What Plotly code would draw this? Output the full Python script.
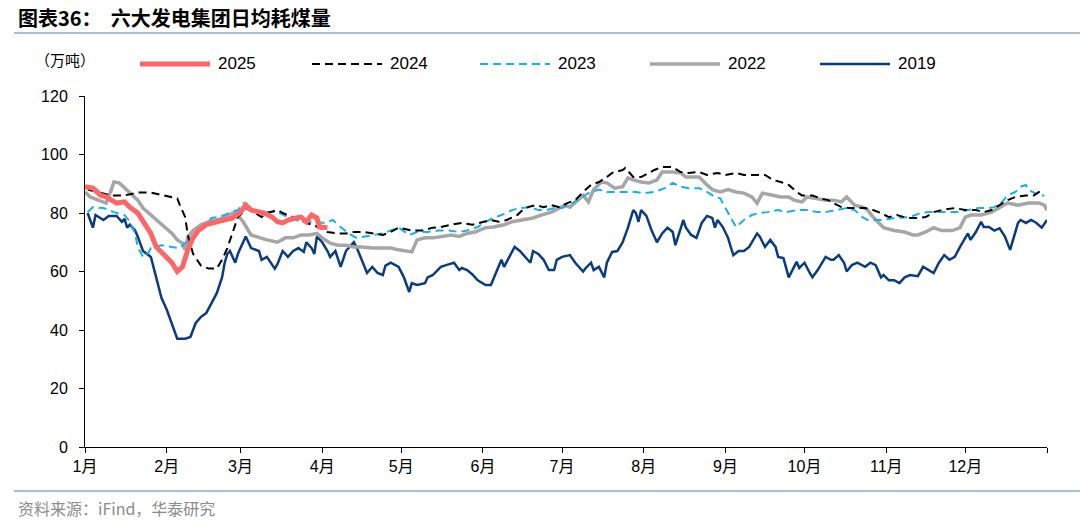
import plotly.graph_objects as go

# ---------------- data ----------------
months = ["1月", "2月", "3月", "4月", "5月", "6月", "7月", "8月", "9月", "10月", "11月", "12月"]
month_start_day = [0, 31, 59, 90, 120, 151, 181, 212, 243, 273, 304, 334]
year_end_day = 365

days_2025 = [0, 3, 6, 8, 10, 12, 15, 17, 20, 22, 25, 27, 30, 33, 35, 37, 39, 41, 43, 46, 50, 53, 56, 59, 61,
             63, 66, 68, 71, 73, 75, 77, 80, 82, 84, 86, 88, 89, 92]
vals_2025 = [89, 88.5, 86, 85.5, 84.4, 83.4, 83.8, 82, 80, 77, 73, 68.4, 65.6, 63, 60, 61.6, 67.4, 71.5, 74, 76, 77, 77.6, 78.3, 80.3, 82.7,
             81, 80.3, 80, 78.6, 77, 76.6, 77.6, 78.3, 78.6, 77, 79.3, 78.3, 75.2, 75]

days_2024 = [1, 5, 10, 15, 20, 25, 30, 35, 36, 38, 39, 41, 44, 47, 50, 52, 54, 56, 58, 60, 61, 64, 67, 69, 73, 75, 79, 81, 83, 86,
             89, 92, 96, 99, 102, 106, 109, 113, 116, 119, 124, 128, 132, 135, 139, 143, 147, 151, 154, 157, 160, 164, 166, 168,
             171, 174, 177, 180, 183, 186, 189, 192, 195, 198, 200, 204, 205, 208, 211, 214, 216, 219, 223, 226, 229, 233, 236,
             240, 243, 247, 250, 254, 258, 261, 264, 267, 270, 272, 276, 279, 282, 284, 287, 290, 293, 296, 299, 302, 305, 308,
             312, 316, 319, 322, 325, 330, 334, 338, 341, 344, 347, 350, 353, 357, 360, 362, 364]
vals_2024 = [88, 87, 86, 86, 87, 87, 86, 85, 82.7, 78.6, 72.5, 66, 62, 61, 61, 64, 68, 73.5, 78.6, 80.3, 81.7, 80.3, 78.6, 80, 81, 80, 78.6, 78.3, 77, 76,
             75, 73.5, 73, 73, 73.5, 73.5, 73, 72.5, 73.5, 75, 74, 74, 75, 75.2, 76, 76.6, 76, 77, 77.6, 77, 77.6, 79.3, 81, 82,
             82.7, 82, 82.7, 82, 83.4, 84.4, 87.2, 89.6, 90.6, 92.3, 93.7, 94.7, 95.4, 92.3, 92.3, 93.7, 94.7, 95.7, 95.7, 94, 93.7, 94, 93,
             93.7, 93, 93.7, 93, 93, 93, 91.3, 90.6, 89.6, 87.2, 86, 86, 85, 84.4, 83.4, 82, 81.7, 81.7, 81.7, 81, 80, 78.6, 79.3,
             78.3, 78.3, 78.6, 80.3, 81, 81.7, 81, 81, 80.3, 81, 82.7, 84.4, 85.5, 86, 86, 87.2, 88]

days_2023 = [1, 3, 7, 11, 15, 17, 19, 20, 22, 24, 25, 27, 29, 33, 36, 38, 40, 42, 45, 48, 50, 53, 55, 58, 60, 64, 68, 73, 77, 80,
             83, 87, 91, 94, 97, 100, 103, 106, 109, 113, 116, 119, 123, 126, 130, 134, 138, 142, 145, 149, 152, 155, 158, 162,
             165, 169, 172, 175, 178, 181, 185, 188, 191, 195, 198, 202, 206, 209, 212, 216, 220, 223, 226, 229, 233, 236, 239,
             241, 243, 245, 247, 248, 250, 253, 256, 259, 263, 266, 270, 274, 278, 281, 285, 289, 292, 295, 297, 300, 303, 307,
             313, 317, 320, 324, 327, 331, 335, 339, 343, 345, 348, 350, 353, 355, 357, 358, 362, 364]
vals_2023 = [80.3, 82, 81.7, 80.3, 79.3, 77, 73, 68.4, 65, 66.3, 68, 68.4, 69, 68.4, 68, 69.7, 71.5, 73, 75.2, 78.3, 78.6, 79.3, 80.3, 81, 83.4, 81, 80.3, 80.3, 78.6, 77.6,
             77, 77, 76.6, 77.6, 75.2, 73, 71.5, 72, 72.5, 73, 74, 75, 72.5, 73.5, 73.5, 74, 74, 73.5, 74, 75.2, 77, 78.3, 79.3, 81,
             81.7, 82, 81, 81, 81.7, 81.7, 83.4, 85, 86.8, 88, 87.2, 87.2, 87.2, 87.2, 86.8, 87.2, 88.5, 90.3, 89, 88.5, 88.5, 87.2, 85.5,
             85, 81.7, 78.6, 75.2, 76, 77.6, 79.3, 80, 80.3, 81, 80.3, 81, 81, 80.3, 80.3, 81, 81.7, 81, 78.6, 77.6, 77.6, 77.6, 78.3,
             78.6, 80, 80.3, 80.3, 80.3, 80.3, 81, 81.7, 81.7, 82, 83.8, 86, 87.2, 89, 89.6, 88, 86, 86]

days_2022 = [0, 2, 5, 8, 10, 11, 13, 15, 17, 20, 22, 25, 27, 30, 33, 35, 37, 38, 39, 41, 44, 47, 50, 53, 57, 58, 60, 63, 66, 69,
             73, 76, 79, 82, 85, 88, 90, 93, 96, 99, 102, 105, 109, 113, 116, 119, 123, 124, 126, 129, 132, 135, 139, 142, 145,
             148, 152, 155, 159, 162, 166, 170, 173, 177, 180, 182, 184, 187, 189, 191, 193, 196, 198, 201, 204, 206, 208, 211,
             214, 217, 219, 223, 226, 228, 231, 233, 236, 238, 241, 244, 247, 250, 253, 255, 257, 261, 264, 267, 269, 272, 274,
             277, 281, 284, 287, 289, 292, 295, 297, 299, 301, 303, 307, 311, 314, 316, 319, 322, 325, 329, 332, 334, 336, 340,
             344, 347, 350, 354, 358, 362, 364, 365]
vals_2022 = [87.2, 85.5, 84.4, 83.4, 88, 90.6, 90.3, 88.5, 86.8, 84.4, 81.7, 79.3, 77.6, 75.2, 73, 70.8, 69.7, 67.4, 71.8, 74, 76, 77, 77.6, 78.6, 80.3, 79.3, 77, 72.5, 71.5, 70.8,
             70, 71.5, 71.5, 72.5, 72.5, 73, 71.5, 69.7, 69, 69, 68.4, 68.4, 68, 68, 68, 67.4, 66.7, 66.7, 70.8, 71.5, 71.5, 72, 72.5, 72, 73,
             73.5, 75, 75.2, 76, 77, 77.6, 78.3, 79.3, 80.3, 81.7, 82.7, 82, 84.4, 86, 83.8, 88, 90.6, 90.3, 88.5, 89, 92, 91.3, 90.6,
             90.3, 91.3, 94, 94, 93.7, 92.3, 92.3, 92.3, 89.6, 88, 87.2, 88, 87.2, 86.8, 85.5, 83.4, 86.8, 86, 85.5, 85.5, 84.4, 83.8, 85.5,
             85, 84.4, 84.4, 83.8, 85.5, 82.7, 82, 81, 78.6, 76.6, 75, 74, 73.5, 72.5, 72.5, 73.5, 75, 74, 74, 75, 78.6, 79.3, 79.3,
             80.3, 82, 83.4, 82.7, 83.4, 83.4, 82.7, 81]

days_2019 = [1, 3, 4, 7, 9, 12, 14, 15, 16, 17, 19, 20, 22, 25, 27, 29, 31, 34, 35, 38, 40, 42, 44, 46, 48, 50, 52, 53, 54, 55,
             57, 58, 59, 61, 63, 66, 67, 69, 72, 73, 75, 77, 79, 81, 83, 84, 86, 87, 88, 90, 92, 93, 95, 96, 97, 99, 101, 102,
             103, 105, 107, 109, 111, 113, 114, 116, 119, 121, 123, 124, 126, 129, 130, 132, 134, 135, 137, 140, 142, 143, 145,
             147, 149, 152, 154, 156, 158, 159, 161, 163, 165, 167, 169, 170, 172, 174, 176, 178, 179, 181, 184, 186, 189, 190,
             192, 193, 195, 197, 198, 200, 202, 204, 206, 208, 209, 210, 211, 213, 215, 217, 219, 221, 223, 224, 226, 227, 228,
             230, 232, 234, 236, 238, 239, 240, 242, 244, 245, 246, 248, 250, 252, 255, 256, 258, 260, 262, 263, 265, 267, 269,
             270, 271, 273, 275, 276, 278, 281, 283, 284, 286, 288, 289, 291, 293, 296, 298, 300, 302, 303, 305, 307, 309, 311,
             313, 316, 318, 320, 322, 324, 326, 328, 330, 332, 334, 335, 336, 338, 340, 341, 343, 345, 347, 349, 351, 352, 354,
             355, 357, 359, 361, 363, 365]
vals_2019 = [80, 75, 79.3, 77.6, 79, 79, 77, 78, 75, 76, 74, 72, 67, 65, 58, 51, 47, 40, 37, 37, 37.6, 42.4, 44.5, 45.8, 49, 52.6, 58, 63, 66, 67,
             63, 66, 68, 72, 68, 67, 64, 65, 61, 62.5, 67, 65, 67, 68, 66.7, 70, 68, 66, 72, 70, 67, 65, 67, 64, 61.6, 67, 69, 70,
             68.4, 64, 59.5, 61.6, 59.5, 58.8, 62, 63, 61.6, 58, 53, 56, 55.4, 56, 58, 58.8, 60.5, 61.6, 62.2, 63, 60.5, 61.2, 60.5,
             59, 57, 55.4, 55.4, 59.5, 64, 61.6, 65, 68.4, 67, 65, 63, 67, 66, 64, 60.5, 60.5, 64, 65, 65.6, 63, 60, 61.2,
             63, 60.5, 61.6, 58, 63, 66.7, 67, 70, 75, 81, 80, 77, 81, 79, 74, 70, 73, 75, 73.5, 69, 75, 77.6, 75,
             72.5, 71.5, 76.6, 79, 78.3, 75, 77.6, 75.2, 71.5, 68.4, 65.6, 67, 67, 68.4, 73, 72, 68.4, 70.8, 68.4, 65, 64.6, 58, 61.6,
             63.3, 61.2, 63, 59.5, 58, 60.5, 65, 64, 64, 65.6, 63, 60, 62.2, 63, 61.6, 63, 62.2, 58, 58.8, 57, 57, 56, 58,
             58.8, 58.4, 61.6, 60.5, 59.5, 63, 65.6, 64, 65, 68.4, 71.5, 73, 70.8, 73.5, 77, 75.2, 75.2, 74, 74.8, 72, 67.4, 70.8, 76.6,
             77.6, 76.6, 77.6, 76.6, 75, 77.6]

y_ticks = [0, 20, 40, 60, 80, 100, 120]

title_text = "图表36：  六大发电集团日均耗煤量"
unit_text = "（万吨）"
source_text = "资料来源：iFind，华泰研究"

# ---------------- style ----------------
W, H = 1080, 527
ML, MR, MT, MB = 85, 33, 96, 80
PW, PH = W - ML - MR, H - MT - MB
FONT = "Liberation Sans, Arial, Noto Sans CJK SC, sans-serif"
CJK = "Noto Sans CJK SC, sans-serif"


def px_x(x):
    return (x - ML) / PW


def px_y(y):
    return (H - MB - y) / PH


series = [
    ("2019", days_2019, vals_2019, dict(color="#0B3C7D", width=2.5, dash="solid")),
    ("2022", days_2022, vals_2022, dict(color="#A6A6A6", width=3.5, dash="solid")),
    ("2023", days_2023, vals_2023, dict(color="#1AAEEA", width=2, dash="8px,5px")),
    ("2024", days_2024, vals_2024, dict(color="#000000", width=2, dash="8px,5px")),
    ("2025", days_2025, vals_2025, dict(color="#FF6666", width=5, dash="solid")),
]

fig = go.Figure()
for name, d, v, ln in series:
    fig.add_trace(go.Scatter(x=d, y=v, mode="lines", name=name, line=ln, showlegend=False))

# custom legend (sample line + label), in the order of the reference
legend_order = ["2025", "2024", "2023", "2022", "2019"]
legend_x0 = [140, 312, 480, 650, 820]
legend_len = 70
legend_y = 64
style_by_name = {s[0]: s[3] for s in series}
shapes = []
annotations = []
for name, x0 in zip(legend_order, legend_x0):
    ln = style_by_name[name]
    shapes.append(dict(type="line", xref="paper", yref="paper",
                       x0=px_x(x0), x1=px_x(x0 + legend_len), y0=px_y(legend_y), y1=px_y(legend_y),
                       line=dict(color=ln["color"], width=ln["width"], dash=ln["dash"])))
    annotations.append(dict(xref="paper", yref="paper", x=px_x(x0 + legend_len + 6), y=px_y(legend_y),
                            xanchor="left", yanchor="middle", showarrow=False, text=name,
                            font=dict(family=FONT, size=17, color="#000000")))

# title / header rules
rule_color = "#8EA8C9"
shapes.append(dict(type="line", xref="paper", yref="paper", x0=px_x(14), x1=px_x(1080),
                   y0=px_y(33), y1=px_y(33), line=dict(color=rule_color, width=1.5)))
shapes.append(dict(type="line", xref="paper", yref="paper", x0=px_x(14), x1=px_x(1080),
                   y0=px_y(491), y1=px_y(491), line=dict(color=rule_color, width=1.5)))

annotations.append(dict(xref="paper", yref="paper", x=px_x(16), y=px_y(18), xanchor="left", yanchor="middle",
                        showarrow=False, text="<b>" + title_text + "</b>",
                        font=dict(family=CJK, size=20, color="#000000")))
annotations.append(dict(xref="paper", yref="paper", x=px_x(33), y=px_y(60), xanchor="left", yanchor="middle",
                        showarrow=False, text=unit_text, font=dict(family=CJK, size=15, color="#000000")))
annotations.append(dict(xref="paper", yref="paper", x=px_x(16), y=px_y(508), xanchor="left", yanchor="middle",
                        showarrow=False, text=source_text, font=dict(family=CJK, size=16, color="#8C8C8C")))

fig.update_layout(
    width=W, height=H,
    margin=dict(l=ML, r=MR, t=MT, b=MB, pad=0),
    paper_bgcolor="white", plot_bgcolor="white",
    font=dict(family=FONT, size=16, color="#000000"),
    shapes=shapes, annotations=annotations,
    showlegend=False,
    xaxis=dict(range=[0, year_end_day], tickmode="array",
               tickvals=month_start_day + [year_end_day], ticktext=months + [""],
               ticks="outside", ticklen=5, tickwidth=1, tickcolor="#000000",
               showline=True, linecolor="#000000", linewidth=1,
               showgrid=False, zeroline=False, tickfont=dict(size=16)),
    yaxis=dict(range=[0, 120], tickmode="array", tickvals=y_ticks,
               ticks="outside", ticklen=5, tickwidth=1, tickcolor="#000000",
               showline=True, linecolor="#000000", linewidth=1,
               showgrid=False, zeroline=False, tickfont=dict(size=16), ticklabelstandoff=8),
)

fig.write_html("out.html", config={"displayModeBar": False})
